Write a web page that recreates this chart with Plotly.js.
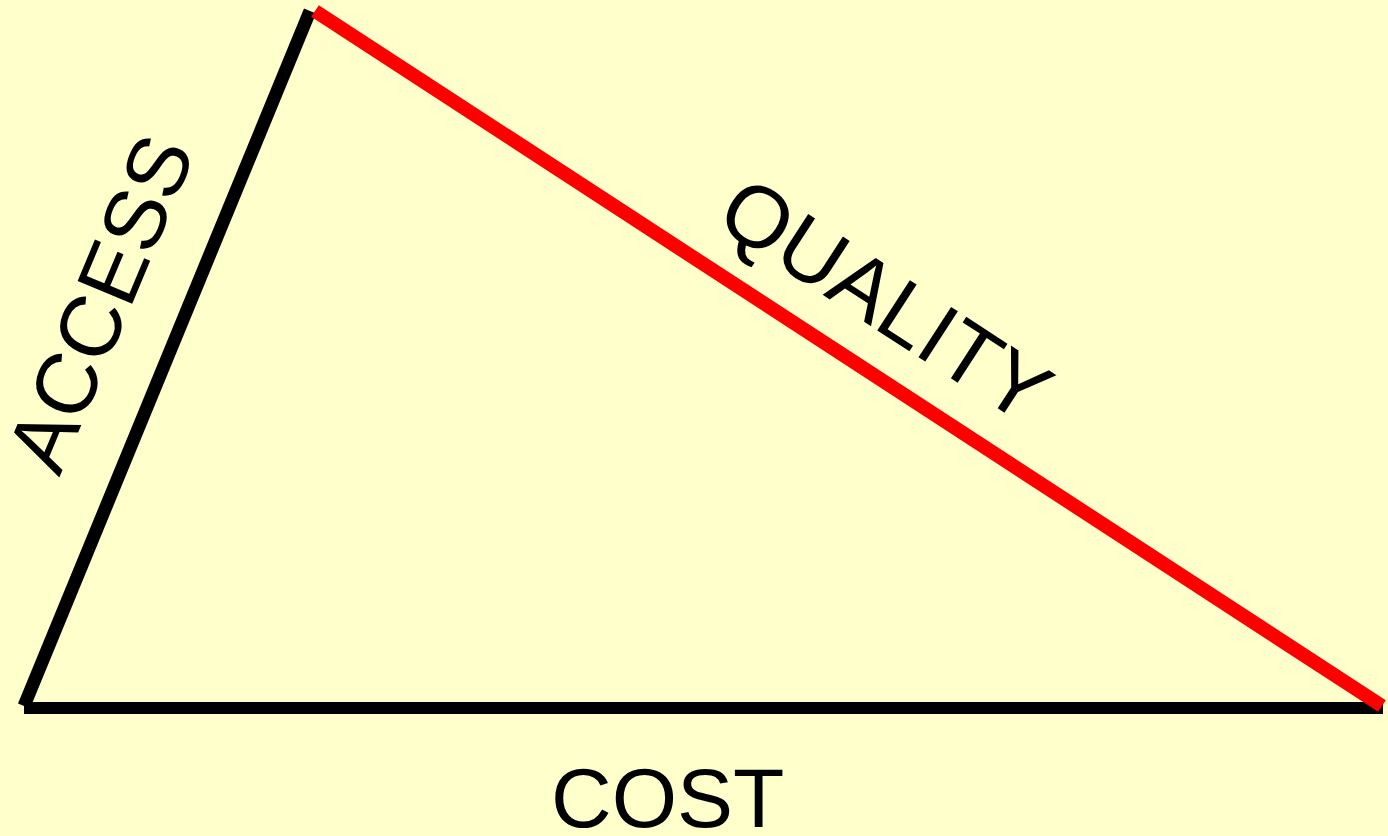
<!DOCTYPE html>
<html>
<head>
<meta charset="utf-8">
<script src="https://cdn.plot.ly/plotly-3.0.1.min.js"></script>
<style>
html,body{margin:0;padding:0;background:#FFFFCC;}
#chart{width:1388px;height:836px;}
</style>
</head>
<body>
<div id="chart"></div>
<script>
// Triangle vertices (diagram coordinates)
const accessX = [24, 310];
const accessY = [706, 11];
const qualityX = [315, 1382];
const qualityY = [11, 706];
const costX = [24, 1383];
const costY = [708, 708];

const labelText = ["ACCESS", "QUALITY", "COST"];
const labelX = [100, 886, 667];
const labelY = [303, 299, 798];
const labelAngle = [-67.3, 33, 0];
const labelSize = [86, 87, 84];

const traces = [
  {x: accessX, y: accessY, mode: "lines", line: {color: "#000000", width: 13}, hoverinfo: "skip"},
  {x: costX, y: costY, mode: "lines", line: {color: "#000000", width: 12}, hoverinfo: "skip"},
  {x: qualityX, y: qualityY, mode: "lines", line: {color: "#FF0000", width: 14}, hoverinfo: "skip"}
];

const annotations = labelText.map((t, i) => ({
  x: labelX[i], y: labelY[i], xref: "x", yref: "y",
  text: t, showarrow: false, textangle: labelAngle[i],
  xanchor: "center", yanchor: "middle",
  font: {family: "Liberation Sans, Arial, sans-serif", size: labelSize[i], color: "#000000"}
}));

const layout = {
  width: 1388, height: 836,
  margin: {l: 0, r: 0, t: 0, b: 0},
  paper_bgcolor: "#FFFFCC", plot_bgcolor: "#FFFFCC",
  showlegend: false,
  xaxis: {range: [0, 1388], visible: false, fixedrange: true},
  yaxis: {range: [836, 0], visible: false, fixedrange: true},
  annotations: annotations
};

Plotly.newPlot("chart", traces, layout, {displayModeBar: false, staticPlot: true});
</script>
</body>
</html>
